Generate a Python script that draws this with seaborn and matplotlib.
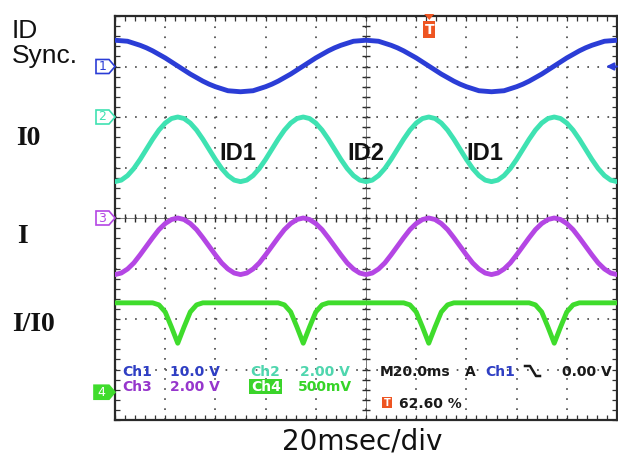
import numpy as np
import pandas as pd
import matplotlib
matplotlib.use("Agg")
import matplotlib.pyplot as plt
import seaborn as sns
from matplotlib.patches import Polygon, Rectangle
from matplotlib.lines import Line2D
from matplotlib.ticker import MultipleLocator

W, H = 618, 457

# ---------------- data (screen divisions, 20 ms/div, 8 vertical divs) ----------------
time_ms = np.arange(81) * 2.5          # sample instants 0 .. 200 ms

ch1_sync = [7.52, 7.51, 7.50, 7.46, 7.42, 7.37, 7.31, 7.24, 7.17, 7.09,
            7.01, 6.93, 6.85, 6.78, 6.71, 6.65, 6.60, 6.56, 6.52, 6.51,
            6.50, 6.51, 6.52, 6.56, 6.60, 6.65, 6.71, 6.78, 6.85, 6.93,
            7.01, 7.09, 7.17, 7.24, 7.31, 7.37, 7.42, 7.46, 7.50, 7.51,
            7.52, 7.51, 7.50, 7.46, 7.42, 7.37, 7.31, 7.24, 7.17, 7.09,
            7.01, 6.93, 6.85, 6.78, 6.71, 6.65, 6.60, 6.56, 6.52, 6.51,
            6.50, 6.51, 6.52, 6.56, 6.60, 6.65, 6.71, 6.78, 6.85, 6.93,
            7.01, 7.09, 7.17, 7.24, 7.31, 7.37, 7.42, 7.46, 7.50, 7.51,
            7.52]

ch2_i0 = [4.72, 4.75, 4.84, 4.98, 5.16, 5.36, 5.56, 5.74, 5.88, 5.97,
          6.00, 5.97, 5.88, 5.74, 5.56, 5.36, 5.16, 4.98, 4.84, 4.75,
          4.72, 4.75, 4.84, 4.98, 5.16, 5.36, 5.56, 5.74, 5.88, 5.97,
          6.00, 5.97, 5.88, 5.74, 5.56, 5.36, 5.16, 4.98, 4.84, 4.75,
          4.72, 4.75, 4.84, 4.98, 5.16, 5.36, 5.56, 5.74, 5.88, 5.97,
          6.00, 5.97, 5.88, 5.74, 5.56, 5.36, 5.16, 4.98, 4.84, 4.75,
          4.72, 4.75, 4.84, 4.98, 5.16, 5.36, 5.56, 5.74, 5.88, 5.97,
          6.00, 5.97, 5.88, 5.74, 5.56, 5.36, 5.16, 4.98, 4.84, 4.75,
          4.72]

ch3_i = [2.88, 2.91, 2.99, 3.11, 3.27, 3.44, 3.61, 3.77, 3.89, 3.97,
         4.00, 3.97, 3.89, 3.77, 3.61, 3.44, 3.27, 3.11, 2.99, 2.91,
         2.88, 2.91, 2.99, 3.11, 3.27, 3.44, 3.61, 3.77, 3.89, 3.97,
         4.00, 3.97, 3.89, 3.77, 3.61, 3.44, 3.27, 3.11, 2.99, 2.91,
         2.88, 2.91, 2.99, 3.11, 3.27, 3.44, 3.61, 3.77, 3.89, 3.97,
         4.00, 3.97, 3.89, 3.77, 3.61, 3.44, 3.27, 3.11, 2.99, 2.91,
         2.88, 2.91, 2.99, 3.11, 3.27, 3.44, 3.61, 3.77, 3.89, 3.97,
         4.00, 3.97, 3.89, 3.77, 3.61, 3.44, 3.27, 3.11, 2.99, 2.91,
         2.88]

ch4_ratio = [2.32, 2.32, 2.32, 2.32, 2.32, 2.32, 2.32, 2.28, 2.14, 1.84,
             1.52, 1.84, 2.14, 2.28, 2.32, 2.32, 2.32, 2.32, 2.32, 2.32,
             2.32, 2.32, 2.32, 2.32, 2.32, 2.32, 2.32, 2.28, 2.14, 1.84,
             1.52, 1.84, 2.14, 2.28, 2.32, 2.32, 2.32, 2.32, 2.32, 2.32,
             2.32, 2.32, 2.32, 2.32, 2.32, 2.32, 2.32, 2.28, 2.14, 1.84,
             1.52, 1.84, 2.14, 2.28, 2.32, 2.32, 2.32, 2.32, 2.32, 2.32,
             2.32, 2.32, 2.32, 2.32, 2.32, 2.32, 2.32, 2.28, 2.14, 1.84,
             1.52, 1.84, 2.14, 2.28, 2.32, 2.32, 2.32, 2.32, 2.32, 2.32,
             2.32]

channels = ["Ch1", "Ch2", "Ch3", "Ch4"]
trace_colors = ["#2b3dd6", "#3fe2b2", "#b446e4", "#3fdc2c"]
channel_levels = [7.0, 6.0, 4.0, 0.55]      # ground markers (divisions)
row_labels = ["ID", "Sync.", "I0", "I", "I/I0"]
region_labels = ["ID1", "ID2", "ID1"]
region_ms = [49.0, 100.0, 147.5]
trigger_ms = 125.2
xlabel = "20msec/div"

df = pd.concat([
    pd.DataFrame({"time": time_ms, "level": vals, "channel": ch})
    for ch, vals in zip(channels, [ch1_sync, ch2_i0, ch3_i, ch4_ratio])
])

# ---------------- figure ----------------
fig = plt.figure(figsize=(W / 100, H / 100), dpi=100)
fig.patch.set_facecolor("white")
ax = fig.add_axes([115 / W, 1 - 420 / H, 502 / W, 404 / H])


def fx(px):
    return px / W


def fy(py):
    return 1 - py / H


ax.set_xlim(0, 200)
ax.set_ylim(0, 8)
ax.set_xticks(np.arange(0, 201, 20))
ax.set_yticks(np.arange(0, 9, 1))
ax.xaxis.set_minor_locator(MultipleLocator(4))
ax.yaxis.set_minor_locator(MultipleLocator(0.2))
ax.tick_params(which="both", direction="in", top=True, right=True,
               labelbottom=False, labelleft=False, length=3.5, width=0.9,
               colors="#333333")
ax.grid(True, which="major", color="#444444", linestyle=(0, (1, 5.03)),
        linewidth=1.2)
for s in ax.spines.values():
    s.set_color("#2a2a2a")
    s.set_linewidth(1.6)

# centre graticule lines with fine ticks
ax.axhline(4, color="#666666", lw=0.6, zorder=1)
ax.axvline(100, color="#666666", lw=0.6, zorder=1)
ax.plot(np.arange(0, 201, 4), np.full(51, 4.0), ls="none", marker="|",
        ms=6, mew=1.0, color="#2a2a2a", zorder=1)
ax.plot(np.full(41, 100.0), np.arange(0, 8.01, 0.2), ls="none", marker="_",
        ms=6, mew=1.0, color="#2a2a2a", zorder=1)

sns.lineplot(data=df, x="time", y="level", hue="channel",
             palette=dict(zip(channels, trace_colors)), linewidth=3.5,
             legend=False, estimator=None, sort=False, ax=ax, zorder=3)
ax.set_xlabel("")
ax.set_ylabel("")

# region labels
for lab, t in zip(region_labels, region_ms):
    ax.text(t, 5.14, lab, fontsize=17, family="Liberation Sans", fontweight="bold",
            ha="center", va="baseline", color="#111111", zorder=4)

# left row labels
fig.text(fx(12), fy(38), row_labels[0], fontsize=19, family="Liberation Sans",
         va="baseline", color="#111111")
fig.text(fx(12), fy(63), row_labels[1], fontsize=19, family="Liberation Sans",
         va="baseline", color="#111111")
fig.text(fx(16), fy(145), row_labels[2], fontsize=20, family="Liberation Serif",
         fontweight="bold", va="baseline", color="#111111")
fig.text(fx(17), fy(243), row_labels[3], fontsize=20, family="Liberation Serif",
         fontweight="bold", va="baseline", color="#111111")
fig.text(fx(12), fy(331), row_labels[4], fontsize=20, family="Liberation Serif",
         fontweight="bold", va="baseline", color="#111111")

# channel ground markers at left edge
for i, (col, lvl) in enumerate(zip(trace_colors, channel_levels)):
    py = 420 - lvl * 50.5
    filled = (i == 3)
    x0 = 94 if filled else 96
    pts = [(x0, py - 7), (109, py - 7), (115, py), (109, py + 7), (x0, py + 7)]
    poly = Polygon([(fx(a), fy(b)) for a, b in pts], closed=True,
                   transform=fig.transFigure, facecolor=col if filled else "white",
                   edgecolor=col, lw=1.2, zorder=5)
    fig.patches.append(poly)
    fig.text(fx((x0 + 109) / 2), fy(py), str(i + 1), fontsize=9,
             family="DejaVu Sans", ha="center", va="center", zorder=8,
             color="white" if filled else col)

# trigger marker at top
tx = 115 + trigger_ms / 20 * 50.2
fig.patches.append(Polygon([(fx(tx - 5), fy(14)), (fx(tx + 5), fy(14)), (fx(tx), fy(20))],
                           closed=True, transform=fig.transFigure,
                           facecolor="#ee5522", edgecolor="none", zorder=6))
fig.patches.append(Rectangle((fx(tx - 6), fy(38)), 12 / W, 17 / H,
                             transform=fig.transFigure, facecolor="#ee5522",
                             edgecolor="none", zorder=6))
fig.text(fx(tx), fy(30), "T", fontsize=10, fontweight="bold", family="DejaVu Sans",
         ha="center", va="center", color="white", zorder=8)

# right side level arrow for Ch1
ax.annotate("", xy=(0.978, 7.0 / 8), xycoords="axes fraction",
            xytext=(1.0, 7.0 / 8), textcoords="axes fraction",
            arrowprops=dict(arrowstyle="-|>", color=trace_colors[0], lw=1.5,
                            mutation_scale=11, shrinkA=0, shrinkB=0))

# scope readouts
mono = dict(fontsize=10, fontweight="bold", family="DejaVu Sans", va="baseline")
txt_blue, txt_cyan, txt_purple, txt_green = "#2f3fc4", "#4fd6ae", "#9636cc", "#36d428"
readouts = [
    (122, 376, "Ch1", txt_blue), (170, 376, "10.0 V", txt_blue),
    (250, 376, "Ch2", txt_cyan), (300, 376, "2.00 V", txt_cyan),
    (380, 376, "M20.0ms", "#1a1a1a"), (465, 376, "A", "#1a1a1a"),
    (485, 376, "Ch1", txt_blue), (562, 376, "0.00 V", "#1a1a1a"),
    (122, 391, "Ch3", txt_purple), (170, 391, "2.00 V", txt_purple),
    (298, 391, "500mV", txt_green), (399, 408, "62.60 %", "#1a1a1a"),
]
for px, py, s, c in readouts:
    fig.text(fx(px), fy(py), s, color=c, **mono)

# Ch4 highlighted box
fig.patches.append(Rectangle((fx(249), fy(394)), 33 / W, 15 / H,
                             transform=fig.transFigure, facecolor="#3ad42a",
                             edgecolor="none", zorder=4))
fig.text(fx(251), fy(391), "Ch4", color="white", zorder=8, **mono)

# trigger position box
fig.patches.append(Rectangle((fx(382), fy(408)), 10 / W, 11 / H,
                             transform=fig.transFigure, facecolor="#ee5522",
                             edgecolor="none", zorder=4))
fig.text(fx(387), fy(402.5), "T", fontsize=7, fontweight="bold", family="DejaVu Sans",
         ha="center", va="center", color="white", zorder=8)

# falling edge symbol
fig.lines.append(Line2D([fx(525), fx(530), fx(536), fx(540)],
                        [fy(366), fy(366), fy(376), fy(376)],
                        transform=fig.transFigure, color="#1a1a1a", lw=1.8))

# bottom label
fig.text(fx(362), fy(450), xlabel, fontsize=20, family="DejaVu Sans",
         ha="center", va="baseline", color="#111111")

fig.savefig("out.png", dpi=100, facecolor="white")
